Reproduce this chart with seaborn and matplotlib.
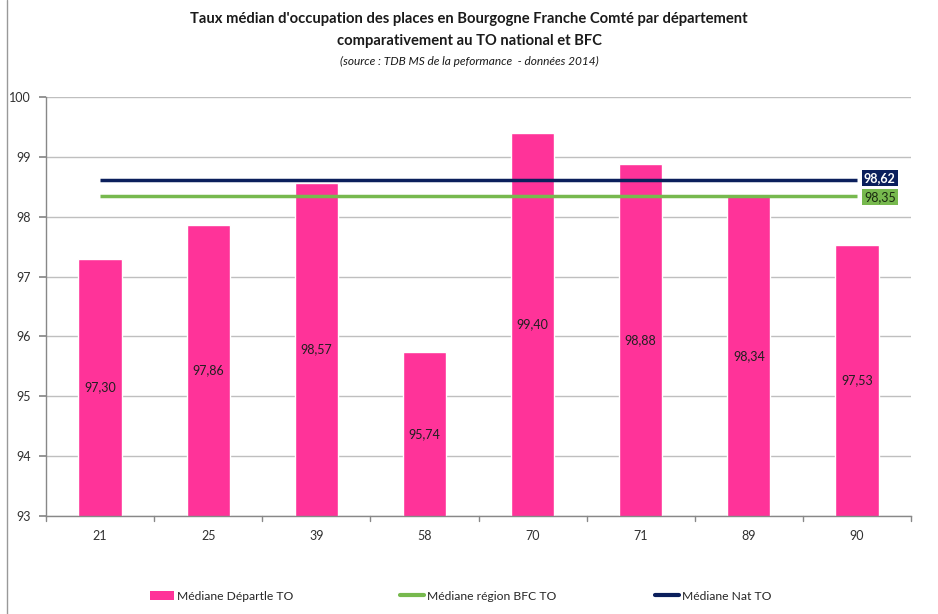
import matplotlib
matplotlib.use("Agg")
import matplotlib.pyplot as plt
from matplotlib.patches import Patch
from matplotlib.lines import Line2D
import seaborn as sns

# ── Data ─────────────────────────────────────────────────
departements = ["21", "25", "39", "58", "70", "71", "89", "90"]
mediane_dep = [97.30, 97.86, 98.57, 95.74, 99.40, 98.88, 98.34, 97.53]
mediane_bfc = 98.35
mediane_nat = 98.62
y_ticks = [93, 94, 95, 96, 97, 98, 99, 100]

PINK = "#FF3399"
GREEN = "#77B94E"
NAVY = "#0B1F5C"
GRID = "#BFBFBF"

sns.set_theme(style="white")
plt.rcParams["font.family"] = ["Lato", "DejaVu Sans"]

fig = plt.figure(figsize=(9.38, 6.14), dpi=100)
ax = fig.add_axes([46 / 938, 1 - 516 / 614, (911 - 46) / 938, (516 - 97) / 614])

sns.barplot(x=departements, y=mediane_dep, color=PINK, width=0.4,
            saturation=1, ax=ax, zorder=2)

last = len(departements) - 1
ax.hlines(mediane_nat, 0, last, color=NAVY, lw=2.5, zorder=3)
ax.hlines(mediane_bfc, 0, last, color=GREEN, lw=2.5, zorder=3)

# values inside bars
for i, v in enumerate(mediane_dep):
    ax.text(i, (y_ticks[0] + v) / 2, f"{v:.2f}".replace(".", ","),
            ha="center", va="center", fontsize=9, color="#202020", zorder=4)

# end labels for reference lines
ax.annotate(f"{mediane_nat:.2f}".replace(".", ","), (last, mediane_nat),
            xytext=(5, 1), textcoords="offset points", ha="left", va="center",
            fontsize=9, fontweight="bold", color="white", zorder=5,
            bbox=dict(boxstyle="square,pad=0.15", fc=NAVY, ec="none"),
            annotation_clip=False)
ax.annotate(f"{mediane_bfc:.2f}".replace(".", ","), (last, mediane_bfc),
            xytext=(5, -1), textcoords="offset points", ha="left", va="center",
            fontsize=9, color="#1a2a10", zorder=5,
            bbox=dict(boxstyle="square,pad=0.15", fc=GREEN, ec="none"),
            annotation_clip=False)

ax.set_ylim(y_ticks[0], y_ticks[-1])
ax.set_xlim(-0.5, last + 0.5)
ax.set_yticks(y_ticks)
ax.set_yticklabels([str(t) for t in y_ticks], fontsize=9, color="#303030")
ax.tick_params(axis="x", length=0, labelsize=9, labelcolor="#303030", pad=10)
ax.tick_params(axis="y", left=True, length=5, color="#888888", pad=6)
ax.grid(axis="y", color=GRID, lw=1, zorder=0)
ax.set_axisbelow(True)
ax.set_xlabel("")
ax.set_ylabel("")

# tick marks between categories
for b in range(len(departements) + 1):
    ax.plot([b - 0.5, b - 0.5], [0, -0.012], transform=ax.get_xaxis_transform(),
            color="#888888", lw=1, clip_on=False)

for side in ["top", "right"]:
    ax.spines[side].set_visible(False)
for side in ["left", "bottom"]:
    ax.spines[side].set_color("#888888")
    ax.spines[side].set_linewidth(1)

# title
fig.text(0.5, 1 - 19 / 614, "Taux médian d'occupation des places en Bourgogne Franche Comté par département",
         ha="center", va="center", fontsize=10.6, fontweight="bold", color="#1a1a1a")
fig.text(0.5, 1 - 41 / 614, "comparativement au TO national et BFC",
         ha="center", va="center", fontsize=10.6, fontweight="bold", color="#1a1a1a")
fig.text(0.5, 1 - 61 / 614, "(source : TDB MS de la peformance  - données 2014)",
         ha="center", va="center", fontsize=8.6, style="italic", color="#1a1a1a")

# legend, three entries spread along the bottom
entries = [
    (Patch(facecolor=PINK, edgecolor="none"), "Médiane Départle TO", 150),
    (Line2D([], [], color=GREEN, lw=3), "Médiane région BFC TO", 400),
    (Line2D([], [], color=NAVY, lw=3), "Médiane Nat TO", 655),
]
for handle, label, xpx in entries:
    fig.legend([handle], [label], loc="center left",
               bbox_to_anchor=(xpx / 938, 1 - 596 / 614), frameon=False,
               fontsize=8.7, handlelength=2.0, handleheight=0.8,
               handletextpad=0.25, borderpad=0, borderaxespad=0)

# frame edge on the left
fig.add_artist(Line2D([7 / 938, 7 / 938], [0, 1], transform=fig.transFigure,
                      color="#999999", lw=1))

fig.savefig("out.png", dpi=100)
plt.close(fig)
